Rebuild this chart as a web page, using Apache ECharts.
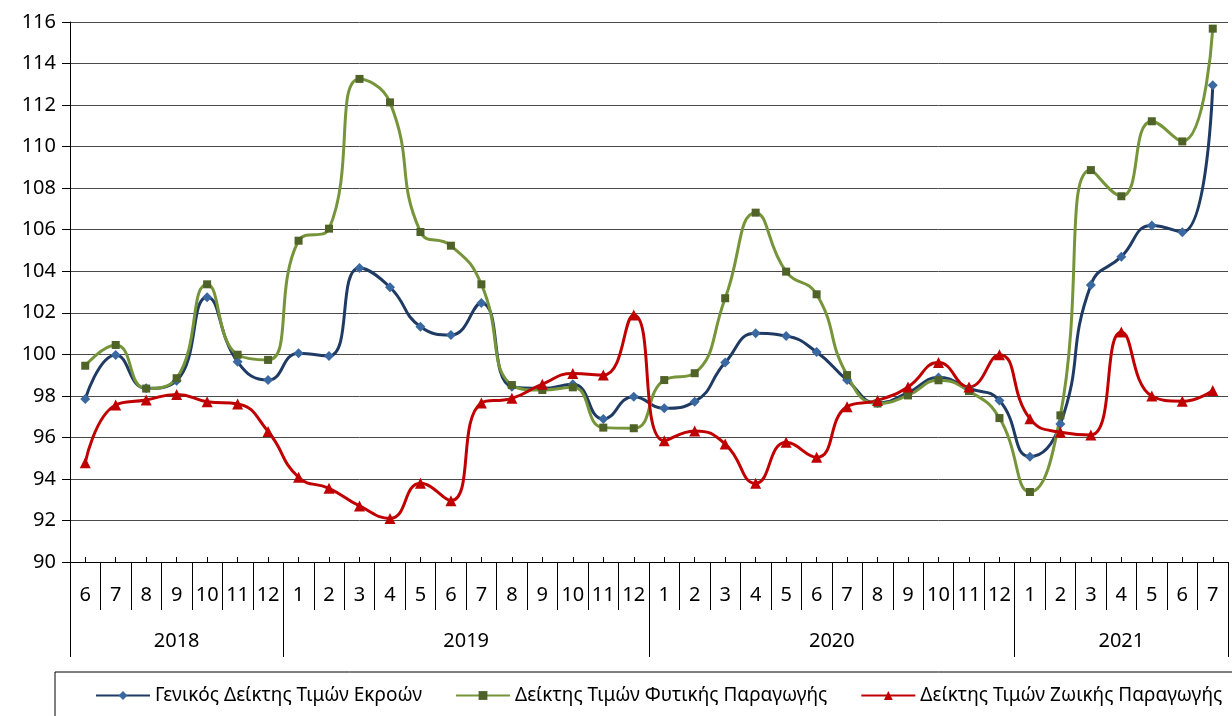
<!DOCTYPE html>
<html>
<head>
<meta charset="utf-8">
<script src="https://cdn.jsdelivr.net/npm/echarts@6/dist/echarts.min.js"></script>
<style>
  html, body { margin: 0; padding: 0; background: #fff; }
  #chart { width: 1232px; height: 716px; }
</style>
</head>
<body>
<div id="chart"></div>
<script>
// months 6/2018 .. 7/2021
var months = ['6','7','8','9','10','11','12',
  '1','2','3','4','5','6','7','8','9','10','11','12',
  '1','2','3','4','5','6','7','8','9','10','11','12',
  '1','2','3','4','5','6','7'];
var years = ['2018', '2019', '2020', '2021'];
var yearSpans = [7, 12, 12, 7];

var general = [97.85, 99.97, 98.36, 98.73, 102.75, 99.64, 98.76,
  100.05, 99.92, 104.16, 103.23, 101.33, 100.93, 102.47, 98.44, 98.36, 98.56, 96.89, 97.96,
  97.40, 97.72, 99.60, 101.01, 100.88, 100.11, 98.76, 97.66, 98.15, 98.88, 98.36, 97.78,
  95.07, 96.64, 103.34, 104.70, 106.20, 105.88, 112.95];
var crop = [99.45, 100.45, 98.35, 98.85, 103.37, 99.98, 99.73,
  105.47, 106.05, 113.26, 112.13, 105.89, 105.23, 103.37, 98.52, 98.28, 98.41, 96.47, 96.44,
  98.76, 99.09, 102.70, 106.82, 103.98, 102.89, 99.00, 97.63, 98.02, 98.75, 98.23, 96.93,
  93.37, 97.06, 108.87, 107.61, 111.22, 110.25, 115.68];
var livestock = [94.78, 97.56, 97.80, 98.07, 97.72, 97.61, 96.28,
  94.08, 93.55, 92.70, 92.10, 93.79, 92.95, 97.66, 97.88, 98.56, 99.08, 99.00, 101.89,
  95.84, 96.31, 95.68, 93.79, 95.76, 95.04, 97.48, 97.78, 98.43, 99.60, 98.43, 99.98,
  96.90, 96.25, 96.12, 101.07, 97.99, 97.74, 98.26];

var seriesNames = ['Γενικός Δείκτης Τιμών Εκροών', 'Δείκτης Τιμών Φυτικής Παραγωγής', 'Δείκτης Τιμών Ζωικής Παραγωγής'];

// year row: half-month slots, labels at group centres, ticks at group edges
var yearSlots = [];
for (var i = 0; i <= months.length * 2; i++) yearSlots.push('');
var yearEdges = [0];
var start = 0;
years.forEach(function (y, k) {
  yearSlots[start * 2 + yearSpans[k]] = y;
  start += yearSpans[k];
  yearEdges.push(start * 2);
});

var font = 'Noto Sans';
var chart = echarts.init(document.getElementById('chart'));

chart.setOption({
  animation: false,
  backgroundColor: '#fff',
  grid: { left: 70, right: 4, top: 22, bottom: 154 },
  legend: {
    left: 55, top: 672,
    width: 1400,
    padding: [14, 100, 30, 40],
    itemGap: 33, itemWidth: 54, itemHeight: 11,
    borderColor: '#000', borderWidth: 1,
    textStyle: { fontFamily: font, fontSize: 19, color: '#000' },
    data: seriesNames
  },
  xAxis: [
    {
      type: 'category', data: months, position: 'bottom',
      axisLine: { show: true, lineStyle: { color: '#000', width: 1 } },
      axisTick: { show: true, interval: 0, length: 48, lineStyle: { color: '#000' } },
      axisLabel: { interval: 0, margin: 23, fontFamily: font, fontSize: 20, color: '#000' },
      splitLine: { show: false }
    },
    {
      type: 'category', data: yearSlots, position: 'bottom', boundaryGap: false,
      axisLine: { show: false },
      axisTick: {
        show: true, length: 95, lineStyle: { color: '#000' },
        interval: function (idx) { return yearEdges.indexOf(idx) >= 0; }
      },
      axisLabel: {
        margin: 69, fontFamily: font, fontSize: 20, color: '#000',
        interval: function (idx, val) { return val !== ''; }
      },
      splitLine: { show: false }
    },
    {
      type: 'category', data: months, position: 'bottom',
      axisLine: { show: false },
      axisTick: { show: true, interval: 0, alignWithLabel: true, inside: true, length: 5, lineStyle: { color: '#000' } },
      axisLabel: { show: false },
      splitLine: { show: false }
    }
  ],
  yAxis: {
    type: 'value', min: 90, max: 116, interval: 2,
    axisLine: { show: true, lineStyle: { color: '#000' } },
    axisTick: { show: true, length: 8, lineStyle: { color: '#000' } },
    axisLabel: { margin: 14, fontFamily: font, fontSize: 20, color: '#000' },
    splitLine: { show: true, lineStyle: { color: '#4a4a4a', width: 1 } }
  },
  series: [
    {
      name: seriesNames[0], type: 'line', xAxisIndex: 0, data: general,
      smooth: 0.5, symbol: 'diamond', symbolSize: 10,
      lineStyle: { color: '#1F3B63', width: 3 },
      itemStyle: { color: '#3A68A0' }
    },
    {
      name: seriesNames[1], type: 'line', xAxisIndex: 0, data: crop,
      smooth: 0.5, symbol: 'rect', symbolSize: 8,
      lineStyle: { color: '#76953A', width: 3 },
      itemStyle: { color: '#4F6228' }
    },
    {
      name: seriesNames[2], type: 'line', xAxisIndex: 0, data: livestock,
      smooth: 0.5, symbol: 'triangle', symbolSize: 11,
      lineStyle: { color: '#C00000', width: 3 },
      itemStyle: { color: '#C00000' }
    }
  ]
});
</script>
</body>
</html>
